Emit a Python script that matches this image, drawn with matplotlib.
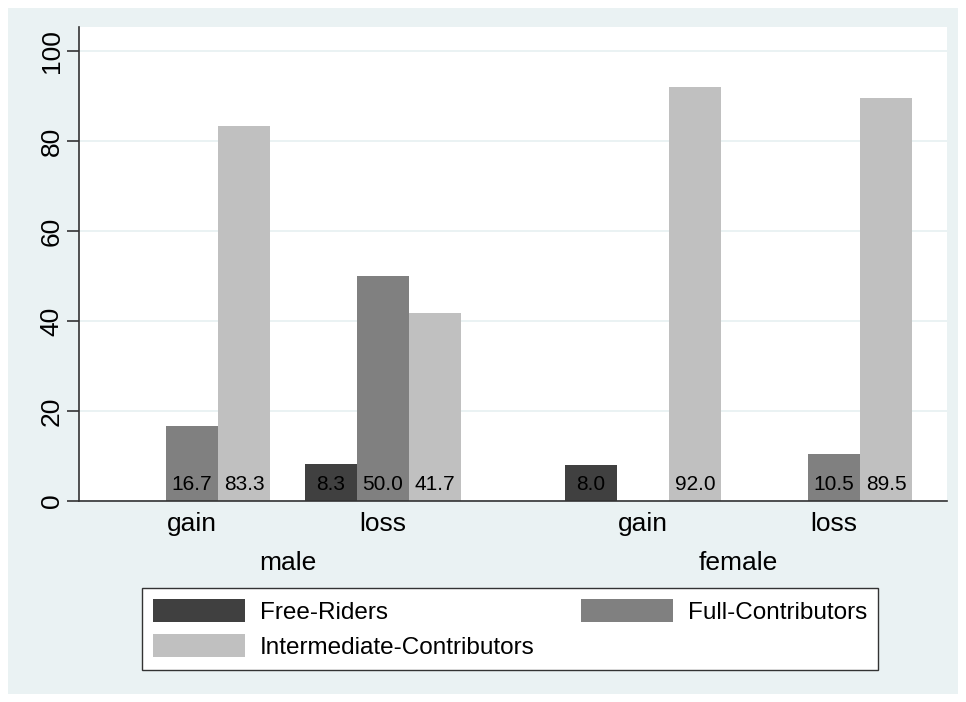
import matplotlib.pyplot as plt
from matplotlib.patches import Rectangle, Patch

plt.rcParams['font.family'] = ['Liberation Sans', 'DejaVu Sans']

# data (percent of subjects)
sexes = ["male", "female"]
frames = ["gain", "loss"]
types = ["Free-Riders", "Full-Contributors", "Intermediate-Contributors"]
free_riders = [0.0, 8.3, 8.0, 0.0]
full_contrib = [16.7, 50.0, 0.0, 10.5]
intermediate = [83.3, 41.7, 92.0, 89.5]
colors = ["#404040", "#808080", "#c0c0c0"]
bg = "#eaf2f3"

W, H = 966, 702
fig = plt.figure(figsize=(W / 100, H / 100), dpi=100, facecolor="white")
fig.patches.append(Rectangle((8 / W, 8 / H), (958 - 8) / W, (694 - 8) / H,
                             transform=fig.transFigure, facecolor=bg,
                             edgecolor="none", zorder=-1))

ax = fig.add_axes([79 / W, (H - 501) / H, (947 - 79) / W, (501 - 27) / H])
ax.set_facecolor("white")

# group layout: bar width 1, small gap inside a sex, big gap between sexes
gap_in = 35 / 52
gap_out = 104 / 52
centers = []
x = gap_in + 1.5
for i in range(4):
    centers.append(x)
    if i == 1:
        x += 3 + gap_out
    else:
        x += 3 + gap_in

series = [free_riders, full_contrib, intermediate]
for k, vals in enumerate(series):
    for i, v in enumerate(vals):
        xc = centers[i] + (k - 1)
        if v > 0:
            ax.bar(xc, v, width=1.0, color=colors[k], edgecolor="none", zorder=2)
            ax.text(xc, 3.6, "%.1f" % v, ha="center", va="center",
                    fontsize=15, color="black", zorder=3)

ax.set_xlim(0, centers[-1] + 1.5 + gap_in)
ax.set_ylim(0, 474 / 4.5)
ax.set_yticks([0, 20, 40, 60, 80, 100])
ax.set_yticklabels(["0", "20", "40", "60", "80", "100"], rotation=90,
                   va="center", fontsize=19)
ax.tick_params(axis="y", length=9, width=1.2, color="#333333", pad=2)
ax.grid(axis="y", color=bg, linewidth=1.4, zorder=1)
ax.set_axisbelow(True)

ax.set_xticks(centers)
ax.set_xticklabels(frames * 2, fontsize=19)
ax.tick_params(axis="x", length=0, pad=8)

for s in ["top", "right"]:
    ax.spines[s].set_visible(False)
ax.spines["left"].set_color("#333333")
ax.spines["bottom"].set_color("#333333")
ax.spines["left"].set_linewidth(1.2)
ax.spines["bottom"].set_linewidth(1.2)

# sex labels under the frame labels
for j, s in enumerate(sexes):
    xm = (centers[2 * j] + centers[2 * j + 1]) / 2
    ax.text(xm, -13.8, s, ha="center", va="center", fontsize=19,
            clip_on=False)

handles = [Patch(facecolor=colors[0], label=types[0]),
           Patch(facecolor=colors[2], label=types[2]),
           Patch(facecolor=colors[1], label=types[1])]
leg = fig.legend(handles=handles, ncol=2, loc="upper left",
                 bbox_to_anchor=(142 / W, 1 - 668 / H, (878 - 142) / W, 80 / H),
                 mode="expand", fontsize=17.5, frameon=True, fancybox=False,
                 framealpha=1, handlelength=3.8, handleheight=1.1,
                 handletextpad=0.6, labelspacing=0.42, borderpad=0.45,
                 borderaxespad=0)
leg.get_frame().set_edgecolor("#333333")
leg.get_frame().set_linewidth(1.0)
leg.get_frame().set_facecolor("white")

fig.savefig("out.png", dpi=100, facecolor=fig.get_facecolor())
